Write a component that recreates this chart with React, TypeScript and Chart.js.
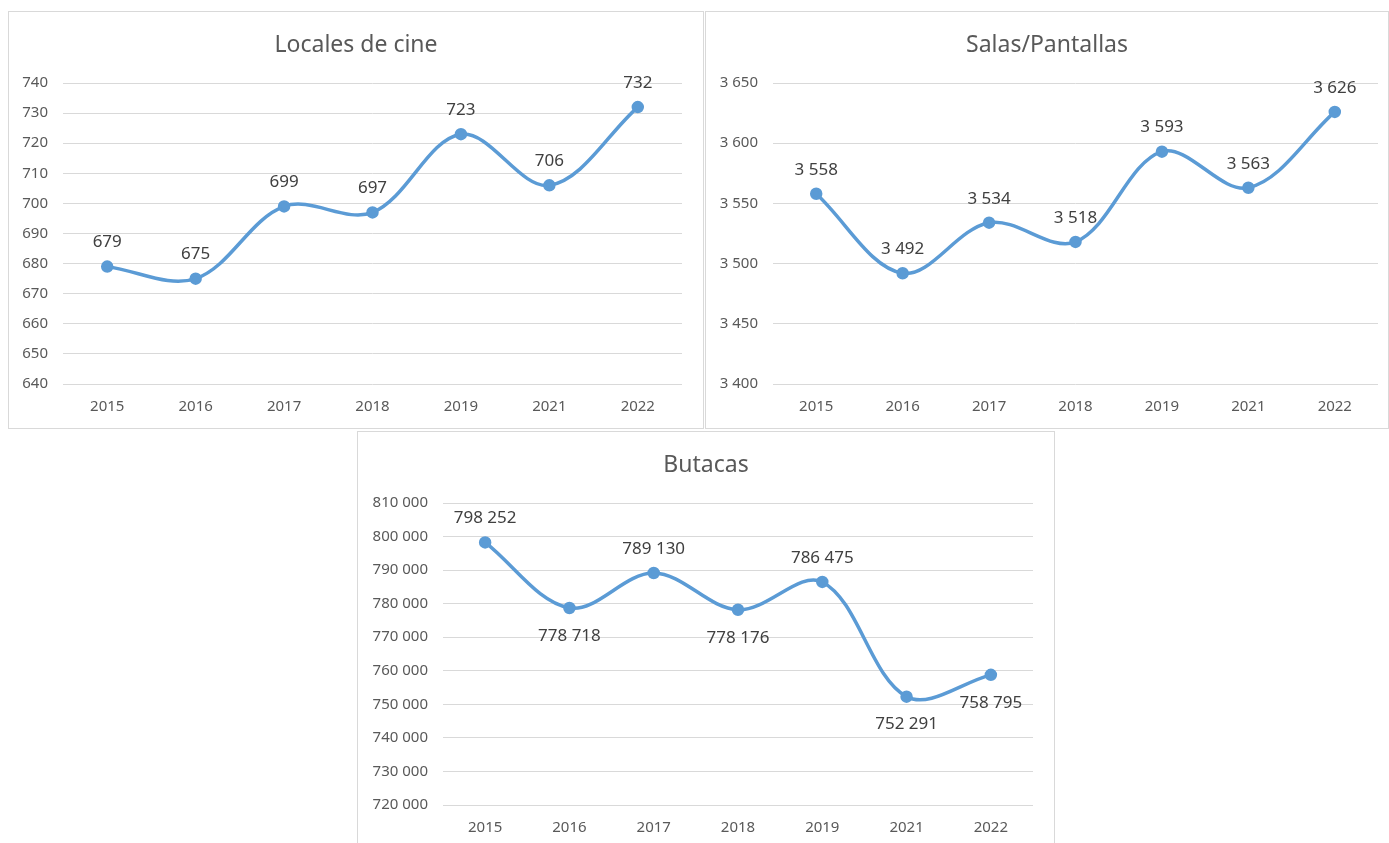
import React, { useEffect, useRef } from "react";
import { Chart, registerables } from "chart.js";

Chart.register(...registerables);

// ---------- data ----------
const years = ["2015", "2016", "2017", "2018", "2019", "2021", "2022"];

const localesTitle = "Locales de cine";
const localesValues = [679, 675, 699, 697, 723, 706, 732];
const localesAxis = [640, 740, 10]; // min, max, step
const localesLabelPos = ["above", "above", "above", "above", "above", "above", "above"];

const salasTitle = "Salas/Pantallas";
const salasValues = [3558, 3492, 3534, 3518, 3593, 3563, 3626];
const salasAxis = [3400, 3650, 50];
const salasLabelPos = ["above", "above", "above", "above", "above", "above", "above"];

const butacasTitle = "Butacas";
const butacasValues = [798252, 778718, 789130, 778176, 786475, 752291, 758795];
const butacasAxis = [720000, 810000, 10000];
const butacasLabelPos = ["above", "below", "above", "below", "above", "below", "below"];

// ---------- styles ----------
const FONT = "'Noto Sans', 'Open Sans', sans-serif";
const LINE_COLOR = "#5B9BD5";
const TICK_COLOR = "#595959";
const LABEL_COLOR = "#404040";
const GRID_COLOR = "#D9D9D9";

const fmt = (v: number) =>
  String(Math.round(v)).replace(/\B(?=(\d{3})+(?!\d))/g, " ");

type Props = {
  title: string;
  values: number[];
  axis: number[];
  labelPos: string[];
  box: { left: number; top: number; width: number; height: number; noBottom?: boolean };
  yWidth: number;
  rightPad: number;
  xHeight: number;
};

function LineChart({ title, values, axis, labelPos, box, yWidth, rightPad, xHeight }: Props) {
  const ref = useRef<HTMLCanvasElement | null>(null);
  const cw = box.width - 2;
  const ch = box.height - (box.noBottom ? 1 : 2);

  useEffect(() => {
    if (!ref.current) return;
    const labelPlugin = {
      id: "dataLabels",
      afterDatasetsDraw(chart: any) {
        const ctx = chart.ctx;
        const meta = chart.getDatasetMeta(0);
        ctx.save();
        ctx.font = `17px ${FONT}`;
        ctx.fillStyle = LABEL_COLOR;
        ctx.textAlign = "center";
        ctx.textBaseline = "middle";
        meta.data.forEach((pt: any, i: number) => {
          const v = values[i];
          const dy = labelPos[i] === "below" ? 28 : -24;
          ctx.fillText(fmt(v), pt.x, pt.y + dy);
        });
        ctx.restore();
      },
    };
    const titlePlugin = {
      id: "centeredTitle",
      afterDraw(chart: any) {
        const ctx = chart.ctx;
        ctx.save();
        ctx.font = `23px ${FONT}`;
        ctx.fillStyle = TICK_COLOR;
        ctx.textAlign = "center";
        ctx.textBaseline = "middle";
        ctx.fillText(title, chart.width / 2, 33);
        ctx.restore();
      },
    };
    const chart = new Chart(ref.current, {
      type: "line",
      data: {
        labels: years,
        datasets: [
          {
            data: values,
            borderColor: LINE_COLOR,
            backgroundColor: LINE_COLOR,
            borderWidth: 3.5,
            pointRadius: 4.5,
            pointHoverRadius: 4.5,
            pointBackgroundColor: LINE_COLOR,
            pointBorderColor: LINE_COLOR,
            tension: 0.35,
            fill: false,
          },
        ],
      },
      options: {
        animation: false,
        responsive: false,
        maintainAspectRatio: false,
        layout: { padding: { left: 0, right: rightPad, top: 71, bottom: 0 } },
        plugins: {
          legend: { display: false },
          tooltip: { enabled: false },
          title: { display: false },
        },
        scales: {
          x: {
            offset: true,
            grid: { display: false, drawTicks: false },
            border: { display: false },
            ticks: { color: TICK_COLOR, font: { family: FONT, size: 15 }, padding: 14 },
            afterFit: (s: any) => {
              s.height = xHeight;
            },
          },
          y: {
            min: axis[0],
            max: axis[1],
            grid: { color: GRID_COLOR, lineWidth: 1, drawTicks: false },
            border: { display: false },
            ticks: {
              stepSize: axis[2],
              color: TICK_COLOR,
              font: { family: FONT, size: 15 },
              padding: 15,
              callback: (v: any) => fmt(Number(v)),
            },
            afterFit: (s: any) => {
              s.width = yWidth;
            },
          },
        },
      },
      plugins: [labelPlugin, titlePlugin],
    } as any);
    return () => chart.destroy();
  }, []);

  return (
    <div
      style={{
        position: "absolute",
        left: box.left,
        top: box.top,
        width: box.width,
        height: box.height,
        boxSizing: "border-box",
        border: `1px solid ${GRID_COLOR}`,
        borderBottom: box.noBottom ? "none" : `1px solid ${GRID_COLOR}`,
        background: "#fff",
      }}
    >
      <canvas ref={ref} width={cw} height={ch} style={{ display: "block", width: cw, height: ch }} />
    </div>
  );
}

export default function App() {
  return (
    <div style={{ position: "absolute", left: 0, top: 0, width: 1389, height: 843, background: "#fff", overflow: "hidden" }}>
      <LineChart
        title={localesTitle}
        values={localesValues}
        axis={localesAxis}
        labelPos={localesLabelPos}
        box={{ left: 8, top: 11, width: 696, height: 418 }}
        yWidth={54}
        rightPad={21}
        xHeight={44}
      />
      <LineChart
        title={salasTitle}
        values={salasValues}
        axis={salasAxis}
        labelPos={salasLabelPos}
        box={{ left: 705, top: 11, width: 684, height: 418 }}
        yWidth={67}
        rightPad={10}
        xHeight={44}
      />
      <LineChart
        title={butacasTitle}
        values={butacasValues}
        axis={butacasAxis}
        labelPos={butacasLabelPos}
        box={{ left: 357, top: 431, width: 698, height: 412, noBottom: true }}
        yWidth={85}
        rightPad={21}
        xHeight={38}
      />
    </div>
  );
}
